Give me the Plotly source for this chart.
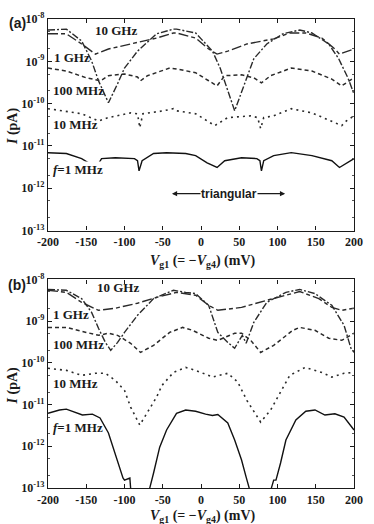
import plotly.graph_objects as go

# ---------------- Panel (a) data: x in mV, y as log10(I) ----------------
a_10ghz_x = [-200,-185,-176,-156,-143,-134,-121,-109,-100,-83,-58,-36,-32,-7,15,25,35,44,57,69,86,107,129,145,167,180,192,200]
a_10ghz_log = [-8.26,-8.24,-8.24,-8.52,-8.99,-9.46,-9.98,-9.53,-9.16,-8.76,-8.35,-8.24,-8.24,-8.33,-8.76,-9.16,-9.70,-10.17,-9.53,-8.94,-8.59,-8.35,-8.26,-8.33,-8.59,-8.94,-9.39,-9.77]

a_1ghz_x = [-200,-176,-156,-138,-121,-92,-58,-36,-32,-7,10,21,35,60,95,116,137,158,175,181,200]
a_1ghz_log = [-8.35,-8.35,-8.59,-8.83,-8.71,-8.59,-8.45,-8.33,-8.33,-8.45,-8.71,-8.83,-8.76,-8.59,-8.47,-8.33,-8.33,-8.45,-8.71,-8.83,-8.71]

a_100mhz_x = [-200,-176,-150,-131,-121,-100,-83,-79,-70,-41,-32,-7,10,21,31,53,69,79,91,118,145,171,184,194,200]
a_100mhz_log = [-9.16,-9.23,-9.39,-9.46,-9.34,-9.30,-9.37,-9.46,-9.34,-9.16,-9.18,-9.27,-9.46,-9.58,-9.34,-9.32,-9.39,-9.51,-9.34,-9.16,-9.23,-9.42,-9.58,-9.46,-9.39]

a_10mhz_x = [-200,-156,-134,-121,-92,-83,-80,-76,-49,-36,-32,-7,18,35,65,74,78,82,95,118,145,180,184,190,200]
a_10mhz_log = [-10.12,-10.24,-10.41,-10.33,-10.22,-10.24,-10.57,-10.24,-10.17,-10.12,-10.17,-10.24,-10.52,-10.33,-10.29,-10.33,-10.59,-10.33,-10.29,-10.12,-10.22,-10.48,-10.52,-10.41,-10.29]

a_1mhz_x = [-200,-176,-156,-147,-137,-130,-112,-87,-83,-81,-77,-62,-45,-20,-7,8,21,31,53,73,77,79,82,95,118,145,171,181,200]
a_1mhz_log = [-11.16,-11.18,-11.30,-11.40,-11.51,-11.30,-11.28,-11.30,-11.35,-11.59,-11.35,-11.18,-11.16,-11.18,-11.23,-11.40,-11.51,-11.35,-11.28,-11.30,-11.35,-11.59,-11.35,-11.23,-11.16,-11.23,-11.35,-11.51,-11.30]

# ---------------- Panel (b) data ----------------
b_10ghz_x = [-200,-176,-156,-143,-134,-125,-118,-109,-100,-83,-62,-36,-20,-7,10,22,35,44,50,54,59,69,86,111,129,149,171,187,196,200]
b_10ghz_log = [-8.24,-8.26,-8.46,-8.79,-9.17,-9.51,-9.70,-9.51,-9.27,-8.86,-8.46,-8.26,-8.31,-8.34,-8.62,-9.27,-9.51,-9.65,-9.46,-9.34,-9.53,-9.03,-8.55,-8.31,-8.24,-8.34,-8.62,-9.10,-9.65,-9.75]

b_1ghz_x = [-200,-176,-156,-134,-112,-83,-58,-32,-7,10,22,53,86,111,129,154,171,184,200]
b_1ghz_log = [-8.26,-8.31,-8.55,-8.74,-8.69,-8.57,-8.43,-8.31,-8.38,-8.62,-8.74,-8.67,-8.50,-8.38,-8.29,-8.46,-8.67,-8.74,-8.69]

b_100mhz_x = [-200,-176,-150,-134,-121,-109,-92,-79,-62,-41,-24,-11,10,22,44,53,65,78,95,120,129,149,167,184,200]
b_100mhz_log = [-9.15,-9.15,-9.27,-9.34,-9.29,-9.34,-9.53,-9.75,-9.58,-9.27,-9.15,-9.22,-9.41,-9.46,-9.29,-9.29,-9.46,-9.75,-9.58,-9.22,-9.15,-9.22,-9.41,-9.46,-9.29]

b_10mhz_x = [-200,-176,-156,-138,-125,-112,-100,-92,-80,-71,-58,-51,-36,-20,-7,15,35,48,54,60,78,91,103,110,116,136,158,171,187,200]
b_10mhz_log = [-10.13,-10.18,-10.30,-10.25,-10.25,-10.42,-10.66,-11.06,-11.49,-11.21,-10.82,-10.54,-10.23,-10.11,-10.18,-10.34,-10.25,-10.46,-10.70,-10.90,-11.42,-11.13,-10.73,-10.49,-10.30,-10.11,-10.23,-10.34,-10.25,-10.23]

b_1mhz_x = [-200,-185,-176,-163,-155,-142,-132,-121,-115,-109,-102,-100,-96,-93,-92,-91,-68,-67,-62,-54,-45,-32,-20,-7,6,15,22,35,44,53,59,63,64,91,92,95,98,104,111,124,137,149,162,175,187,200]
b_1mhz_log = [-11.21,-11.13,-11.11,-11.20,-11.25,-11.23,-11.32,-11.68,-12.02,-12.40,-12.76,-12.81,-12.79,-12.76,-13.00,-13.5,-13.5,-13.00,-12.64,-12.02,-11.61,-11.21,-11.13,-11.16,-11.23,-11.26,-11.24,-11.44,-11.85,-12.33,-12.74,-13.00,-13.5,-13.5,-13.00,-12.81,-12.81,-12.40,-11.85,-11.37,-11.16,-11.13,-11.25,-11.22,-11.30,-11.61]

x_ticks = [-200, -150, -100, -50, 0, 50, 100, 150, 200]
y_exps = [-13, -12, -11, -10, -9, -8]
triangular_bounds = [-42, 118]

SERIF = "Liberation Serif"
INK = "#1a1a1a"

styles = {
    "10ghz": dict(dash="7px,2px,2px,2px", color="#2a2a2a", width=1.4),
    "1ghz": dict(dash="10px,3px,4px,3px", color="#2a2a2a", width=1.4),
    "100mhz": dict(dash="4px,3px", color="#2a2a2a", width=1.5),
    "10mhz": dict(dash="2px,4px", color="#2a2a2a", width=1.6),
    "1mhz": dict(dash="solid", color="#111111", width=1.4),
}

fig = go.Figure()

def add(xs, logs, key, xa, ya):
    fig.add_trace(go.Scatter(
        x=xs, y=[10 ** v for v in logs], mode="lines",
        line=styles[key], xaxis=xa, yaxis=ya, showlegend=False,
        hoverinfo="skip"))

add(a_10ghz_x, a_10ghz_log, "10ghz", "x", "y")
add(a_1ghz_x, a_1ghz_log, "1ghz", "x", "y")
add(a_100mhz_x, a_100mhz_log, "100mhz", "x", "y")
add(a_10mhz_x, a_10mhz_log, "10mhz", "x", "y")
add(a_1mhz_x, a_1mhz_log, "1mhz", "x", "y")

add(b_10ghz_x, b_10ghz_log, "10ghz", "x2", "y2")
add(b_1ghz_x, b_1ghz_log, "1ghz", "x2", "y2")
add(b_100mhz_x, b_100mhz_log, "100mhz", "x2", "y2")
add(b_10mhz_x, b_10mhz_log, "10mhz", "x2", "y2")
add(b_1mhz_x, b_1mhz_log, "1mhz", "x2", "y2")

tickfont = dict(family=SERIF, size=12, color=INK)

def xaxis_cfg(anchor):
    return dict(
        domain=[0, 1], anchor=anchor, range=[-200, 200],
        tickvals=x_ticks, ticktext=[f"<b>{v}</b>" for v in x_ticks],
        ticks="inside", ticklen=4, tickcolor=INK, mirror="ticks",
        showline=True, linecolor=INK, linewidth=1.2, showgrid=False,
        zeroline=False, tickfont=tickfont,
    )

def yaxis_cfg(anchor, dom):
    return dict(
        domain=dom, anchor=anchor, type="log", range=[-13, -8],
        tickvals=[10 ** e for e in y_exps],
        ticktext=[f"<b>10<sup>{e}</sup></b>" for e in y_exps],
        ticks="inside", ticklen=4, tickcolor=INK, mirror="ticks",
        showline=True, linecolor=INK, linewidth=1.2, showgrid=False,
        zeroline=False, tickfont=tickfont,
        minor=dict(ticks="inside", ticklen=2, tickcolor="#555", showgrid=False),
    )

fig.update_layout(
    width=374, height=524, autosize=False,
    margin=dict(l=48, r=11, t=18, b=36),
    paper_bgcolor="white", plot_bgcolor="white",
    xaxis=xaxis_cfg("y"),
    yaxis=yaxis_cfg("x", [0.549, 1.0]),
    xaxis2=xaxis_cfg("y2"),
    yaxis2=yaxis_cfg("x2", [0.0, 0.4447]),
)

# vertical dotted guide lines and triangular arrow (panel a)
for xv in triangular_bounds:
    fig.add_shape(type="line", xref="x", yref="y", x0=xv, x1=xv, y0=-8.76, y1=-12.17,
                  line=dict(color="#bbbbbb", width=1, dash="1px,2px"))

tri_y = -12.13
fig.add_annotation(xref="x", yref="y", x=-38, y=tri_y, ax=8, ay=tri_y, axref="x", ayref="y",
                   text="", showarrow=True, arrowhead=2, arrowsize=0.8, arrowwidth=1.3, arrowcolor=INK)
fig.add_annotation(xref="x", yref="y", x=110, y=tri_y, ax=64, ay=tri_y, axref="x", ayref="y",
                   text="", showarrow=True, arrowhead=2, arrowsize=0.8, arrowwidth=1.3, arrowcolor=INK)
fig.add_annotation(xref="x", yref="y", x=36, y=tri_y, text="<b>triangular</b>", showarrow=False,
                   font=dict(family="Liberation Sans", size=12, color=INK), bgcolor="white", borderpad=0)

lab_font = dict(family=SERIF, size=13, color=INK)

def label(txt, x, y, xa, ya, bg=None):
    kw = dict(xref=xa, yref=ya, x=x, y=y, text=txt, showarrow=False, xanchor="left",
              yanchor="middle", font=lab_font, borderpad=0)
    if bg:
        kw["bgcolor"] = bg
    fig.add_annotation(**kw)

# panel (a) labels
label("<b>10 GHz</b>", -140, -8.283, "x", "y")
label("<b>1 GHz</b>", -193, -8.92, "x", "y")
label("<b>100 MHz</b>", -195, -9.70, "x", "y")
label("<b>10 MHz</b>", -195, -10.50, "x", "y")
label("<b><i>f</i>=1 MHz</b>", -195, -11.56, "x", "y", bg="white")
fig.add_shape(type="line", xref="x", yref="y", x0=-163, y0=-8.354, x1=-139, y1=-8.283,
              line=dict(color=INK, width=1))
fig.add_shape(type="line", xref="x", yref="y", x0=-182, y0=-8.42, x1=-182, y1=-8.755,
              line=dict(color=INK, width=1))

# panel (b) labels
label("<b>10 GHz</b>", -137, -8.19, "x2", "y2")
label("<b>1 GHz</b>", -195, -8.84, "x2", "y2")
label("<b>100 MHz</b>", -195, -9.555, "x2", "y2")
label("<b>10 MHz</b>", -195, -10.49, "x2", "y2")
label("<b><i>f</i>=1 MHz</b>", -195, -11.54, "x2", "y2")
fig.add_shape(type="line", xref="x2", yref="y2", x0=-172, y0=-8.287, x1=-138, y1=-8.191,
              line=dict(color=INK, width=1))
fig.add_shape(type="line", xref="x2", yref="y2", x0=-185, y0=-8.383, x1=-185, y1=-8.622,
              line=dict(color=INK, width=1))

# axis titles, panel tags
title_font = dict(family=SERIF, size=14, color=INK)
xtitle = "<b><i>V</i><sub>g1</sub> (= \u2212<i>V</i><sub>g4</sub>) (mV)</b>"
fig.add_annotation(xref="paper", yref="paper", x=0.505, y=0.484, text=xtitle, showarrow=False,
                   font=title_font, xanchor="center", yanchor="middle")
fig.add_annotation(xref="paper", yref="paper", x=0.505, y=-0.060, text=xtitle, showarrow=False,
                   font=title_font, xanchor="center", yanchor="middle")
ytitle = "<b><i>I</i> (pA)</b>"
fig.add_annotation(xref="paper", yref="paper", x=-0.114, y=0.772, text=ytitle, showarrow=False,
                   font=title_font, textangle=-90, xanchor="center", yanchor="middle")
fig.add_annotation(xref="paper", yref="paper", x=-0.114, y=0.219, text=ytitle, showarrow=False,
                   font=title_font, textangle=-90, xanchor="center", yanchor="middle")
fig.add_annotation(xref="paper", yref="paper", x=-0.10, y=0.991, text="<b>(a)</b>", showarrow=False,
                   font=dict(family="Liberation Sans", size=14, color=INK), xanchor="center", yanchor="middle")
fig.add_annotation(xref="paper", yref="paper", x=-0.10, y=0.432, text="<b>(b)</b>", showarrow=False,
                   font=dict(family="Liberation Sans", size=14, color=INK), xanchor="center", yanchor="middle")

fig.write_html("out.html")
